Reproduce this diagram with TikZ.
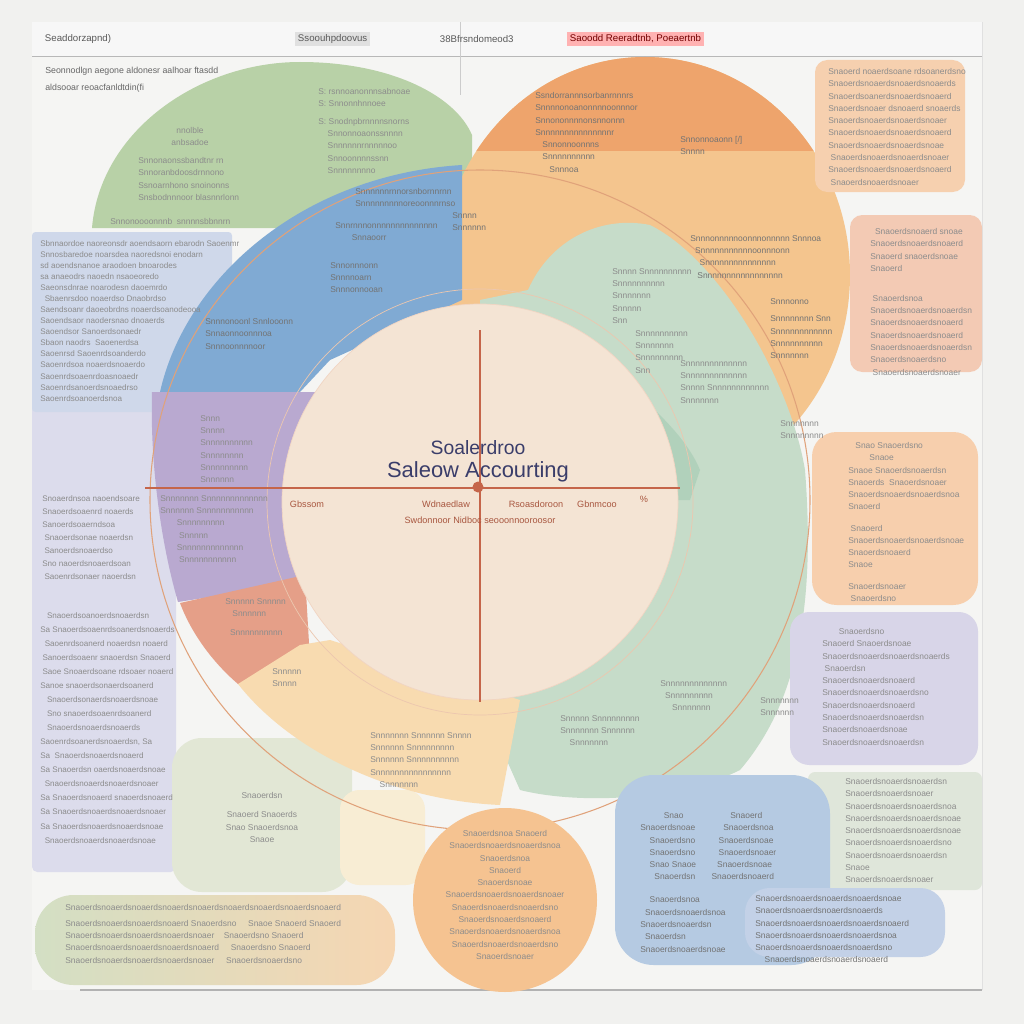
\documentclass[tikz,border=0pt]{standalone}
\usepackage{fontspec}
\setmainfont{Liberation Sans}
\usetikzlibrary{positioning}
\definecolor{pageBg}{HTML}{F1F1EF}
\definecolor{panelBg}{HTML}{F5F5F3}
\definecolor{greenT}{HTML}{B8D1A7}
\definecolor{orangeD}{HTML}{EEA46C}
\definecolor{orangeL}{HTML}{F4C58E}
\definecolor{blueQ}{HTML}{80AAD3}
\definecolor{purpleQ}{HTML}{B9A9D0}
\definecolor{salmonQ}{HTML}{E59F88}
\definecolor{yellowR}{HTML}{F8DBB0}
\definecolor{greenL}{HTML}{C6DCC9}
\definecolor{greenM}{HTML}{A9CDB6}
\definecolor{centerF}{HTML}{F4E4D4}
\definecolor{lineRed}{HTML}{C5654A}
\definecolor{ringC}{HTML}{E0A27A}
\definecolor{navy}{HTML}{3A3D6A}
\definecolor{leftP}{HTML}{CFD8EA}
\definecolor{leftQ}{HTML}{DCDCEC}
\definecolor{boxOa}{HTML}{F6D0AF}
\definecolor{boxOb}{HTML}{F3CAB4}
\definecolor{boxOc}{HTML}{F7CFAD}
\definecolor{boxP}{HTML}{D8D5E8}
\definecolor{boxG}{HTML}{DFE6DA}
\definecolor{boxB}{HTML}{B5CAE2}
\definecolor{boxBb}{HTML}{C3D1E7}
\definecolor{btmG}{HTML}{D3DFC4}
\definecolor{btmO}{HTML}{F6D6B2}
\definecolor{orangeC}{HTML}{F5C391}
\definecolor{greenP}{HTML}{E2E7D5}
\definecolor{yellowP}{HTML}{F8EDD4}

\begin{document}
\begin{tikzpicture}[x=0.02cm, y=-0.02cm,
  txt/.style={font=\fontsize{4.8}{7}\selectfont, text=black!45, inner sep=0pt, anchor=north west, align=left},
  txtc/.style={txt, anchor=north, align=center},
  hd/.style={font=\fontsize{5.5}{7}\selectfont, text=black!65, inner sep=1.5pt, anchor=west},
  lab/.style={font=\fontsize{5.2}{7}\selectfont, text=lineRed!85!black, inner sep=0pt}]
\useasboundingbox (0,0) rectangle (1024,1024);

% background and frame
\fill[pageBg] (0,0) rectangle (1024,1024);
\fill[panelBg] (32,22) rectangle (982,990);
\fill[black!3] (32,22) rectangle (982,56);
\draw[black!28, line width=0.5pt] (32,56) -- (982,56);
\draw[black!30, line width=0.6pt] (80,990) -- (982,990);
\draw[black!12] (982,22) -- (982,990);
\draw[black!20, line width=0.3pt] (460,22) -- (460,95);

% left panels
\fill[leftQ, rounded corners=3pt] (32,232) rectangle (176,872);
\fill[leftP, rounded corners=2pt] (32,232) rectangle (232,412);

% segments of the ring
\fill[greenT] (92,228) .. controls (100,130) and (200,62) .. (300,62) .. controls (390,62) and (455,95) .. (472,135) -- (472,228) -- cycle;
\fill[greenP, rounded corners=17pt] (172,738) rectangle (352,892);
\fill[yellowP, rounded corners=11pt] (340,790) rectangle (425,885);
\fill[orangeL] (645,275) ellipse [x radius=205, y radius=218];
\begin{scope}
  \clip (430,40) rectangle (850,150);
  \fill[orangeD] (645,275) ellipse [x radius=205, y radius=218];
\end{scope}
\fill[greenL] (528,290) .. controls (550,240) and (600,215) .. (650,225) .. controls (720,260) and (790,380) .. (805,470) .. controls (815,600) and (800,700) .. (740,770) .. controls (680,800) and (580,805) .. (520,790) -- (480,700) -- (480,300) -- cycle;
\fill[greenM, opacity=.7] (540,330) .. controls (600,360) and (680,420) .. (700,470) -- (690,500) -- (520,500) -- cycle;
\fill[blueQ] (160,392) .. controls (185,280) and (300,175) .. (462,165) -- (462,300) -- (330,360) -- (300,392) -- cycle;
\fill[purpleQ] (152,392) -- (320,392) -- (320,580) -- (178,602) .. controls (160,540) and (150,460) .. cycle;
\fill[salmonQ] (180,603) -- (305,575) -- (310,660) -- (270,680) -- (238,684) .. controls (210,660) and (190,630) .. cycle;
\fill[yellowR] (238,684) .. controls (290,750) and (390,800) .. (500,805) -- (520,700) -- (330,640) -- (300,645) -- cycle;

% rings and centre
\draw[ringC, line width=0.6pt] (480,500) circle [radius=330];
\draw[ringC!60, line width=0.4pt] (480,502) circle [radius=213];
\fill[centerF] (480,502) circle [radius=198];
\draw[ringC!45, line width=0.4pt] (480,502) circle [radius=198];

% side boxes
\fill[boxOa, rounded corners=7pt] (815,60) rectangle (965,192);
\fill[boxOb, rounded corners=7pt] (850,215) rectangle (982,372);
\fill[boxOc, rounded corners=14pt] (812,432) rectangle (978,605);
\fill[boxP, rounded corners=11pt] (790,612) rectangle (978,765);
\fill[boxG, rounded corners=4pt] (808,772) rectangle (982,890);
\fill[boxB, rounded corners=22pt] (615,775) rectangle (830,965);
\fill[boxBb, rounded corners=14pt] (745,888) rectangle (945,957);
\shade[left color=btmG, right color=btmO, rounded corners=22pt] (35,895) rectangle (395,985);
\fill[orangeC] (505,900) ellipse [x radius=92, y radius=92];

% cross
\coordinate (crossW) at (145,488);
\coordinate (crossE) at (680,488);
\coordinate (crossN) at (480,330);
\coordinate (crossS) at (480,702);
\draw[lineRed, line width=0.6pt] (crossW) -- (crossE);
\draw[lineRed, line width=0.6pt] (crossN) -- (crossS);
\node[circle, fill=lineRed, inner sep=0pt, minimum size=0.22cm] (hub) at (478,487) {};

% titles
\node[font=\fontsize{11}{13}\selectfont, text=navy, inner sep=0pt] (ttlA) at (478,448) {Soalerdroo};
\node[font=\fontsize{12.5}{14}\selectfont, text=navy, inner sep=0pt] (ttlB) at (478,472) {Saleow Accourting};
\node[lab] (lbA) at (307,504) {Gbssom};
\node[lab] (lbB) at (446,504) {Wdnaedlaw};
\node[lab] (lbC) at (536,504) {Rsoasdoroon};
\node[lab] (lbD) at (597,504) {Gbnmcoo};
\node[lab] (lbE) at (644,499) {\%};
\node[lab] (lbF) at (480,520) {Swdonnoor Nidboc seooonnooroosor};

% header
\node[hd] (hdA) at (42,39) {Seaddorzapnd)};
\node[hd, fill=black!12] (hdB) at (295,39) {Ssoouhpdoovus};
\node[hd] (hdC) at (437,39) {38Bfrsndomeod3};
\node[hd, fill=red!30, text=red!45!black] (hdD) at (567,39) {Saoodd Reeradtnb, Poeaertnb};
\node[txt, font=\fontsize{5}{9.5}\selectfont, text=black!60] (intro) at (45,67) {Seonnodlgn aegone aldonesr aalhoar ftasdd\\aldsooar reoacfanldtdin(fi};

% texts in the ring
\node[txtc] (grA) at (190,127) {nnolble\\anbsadoe};
\node[txt] (grB) at (138,157) {Snnonaonssbandtnr rn\\Snnoranbdoosdrnnono\\Ssnoarnhono snoinonns\\Snsbodnnnoor blasnnrlonn};
\node[txt] (grC) at (318,88) {S: rsnnoanonnnsabnoae\\S: Snnonnhnnoee\\[3pt]S: Snodnpbrnnnnsnorns\\~~~~Snnonnoaonssnnnn\\~~~~Snnnnnnrnnnnnoo\\~~~~Snnoonnnnssnn\\~~~~Snnnnnnnno};
\node[txt] (grD) at (110,218) {Snnonoooonnnb~ snnnnsbbnnrn};
\node[txt, text=black!55] (blA) at (355,188) {Snnnnnnrnnorsnbornnrnn\\Snnnnnnnnnoreoonnnrnso};
\node[txt, text=black!55] (blB) at (335,222) {Snnrnnnonnnnnnnnnnnnnn\\~~~~~~~Snnaoorr};
\node[txt, text=black!55] (blC) at (205,318) {Snnnonoonl Snnlooonn\\Snnaonnoonnnoa\\Snnnoonnnnoor};
\node[txt, text=black!55] (blD) at (330,262) {Snnonnnonn\\Snnnnoarn\\Snnnonnooan};
\node[txt, text=black!55] (orA) at (535,92) {Ssndorrannnsorbanrnnnrs\\Snnnnonoanonnnnoonnnor\\Snnononnnnonsnnonnn\\Snnnnnnnnnnnnnnnr\\~~~Snnonnoonnns\\~~~Snnnnnnnnnn\\~~~~~~Snnnoa};
\node[txt, text=black!55] (orB) at (680,136) {Snnonnoaonn [/]\\Snnnn};
\node[txt, text=black!55] (orE) at (452,212) {Snnnn\\Snnnnnn};
\node[txt, text=black!55] (orC) at (690,235) {Snnnonnnnnoonnnonnnnn Snnnoa\\~~Snnnnnnnnnnnoonnnonn\\~~~~Snnnnnnnnnnnnnnn\\~~~Snnnnnnnnnnnnnnnnn};
\node[txt, text=black!55] (orD) at (770,298) {Snnnonno\\[3pt]Snnnnnnnn Snn\\Snnnnnnnnnnnn\\Snnnnnnnnnn\\Snnnnnnn};
\node[txt] (glA) at (612,268) {Snnnn Snnnnnnnnnn\\Snnnnnnnnnn\\Snnnnnnn\\Snnnnn\\Snn};
\node[txt] (glB) at (635,330) {Snnnnnnnnnn\\Snnnnnnn\\Snnnnnnnnn\\Snn};
\node[txt] (glC) at (680,360) {Snnnnnnnnnnnnn\\Snnnnnnnnnnnnn\\Snnnn Snnnnnnnnnnnn\\Snnnnnnn};
\node[txt] (glD) at (780,420) {Snnnnnnn\\Snnnnnnnn};
\node[txt] (glE) at (660,680) {Snnnnnnnnnnnnn\\~~Snnnnnnnnn\\~~~~~Snnnnnnn};
\node[txt] (glF) at (560,715) {Snnnnn Snnnnnnnnn\\Snnnnnnn Snnnnnn\\~~~~Snnnnnnn};
\node[txt] (glG) at (760,697) {Snnnnnnn\\Snnnnnn};
\node[txt] (puA) at (200,415) {Snnn\\Snnnn\\Snnnnnnnnnn\\Snnnnnnnn\\Snnnnnnnnn\\Snnnnnn};
\node[txt] (puB) at (160,495) {Snnnnnnn Snnnnnnnnnnnnn\\Snnnnnn Snnnnnnnnnnn\\~~~~~~~Snnnnnnnnn\\~~~~~~~~Snnnnn\\~~~~~~~Snnnnnnnnnnnnn\\~~~~~~~~Snnnnnnnnnnn};
\node[txt] (saA) at (225,598) {Snnnnn Snnnnn\\~~~Snnnnnn\\[4pt]~~Snnnnnnnnnn};
\node[txt] (yeB) at (272,668) {Snnnnn\\Snnnn};
\node[txt] (yeA) at (370,732) {Snnnnnnn Snnnnnn Snnnn\\Snnnnnn Snnnnnnnnn\\Snnnnnn Snnnnnnnnnn\\Snnnnnnnnnnnnnnnn\\~~~~Snnnnnnn};

% left column
\node[txt, font=\fontsize{4.6}{6.3}\selectfont] (lfA) at (40,240) {Sbnnaordoe naoreonsdr aoendsaorn ebarodn Saoenmr\\Snnosbaredoe noarsdea naoredsnoi enodarn\\sd aoendsnanoe araodoen bnoarodes\\sa anaeodrs naoedn nsaoeoredo\\Saeonsdnrae noarodesn daoemrdo\\~~Sbaenrsdoo noaerdso Dnaobrdso\\Saendsoanr daoeobrdns noaerdsoanodeooa\\Saoendsaor naodersnao dnoaerds\\Saoendsor Sanoerdsonaedr\\Sbaon naodrs ~Saoenerdsa\\Saoenrsd Saoenrdsoanderdo\\Saoenrdsoa noaerdsnoaerdo\\Saoenrdsoaenrdoasnoaedr\\Saoenrdsanoerdsnoaedrso\\Saoenrdsoanoerdsnoa};
\node[txt, font=\fontsize{4.6}{7.4}\selectfont] (lfB) at (42,495) {Snoaerdnsoa naoendsoare\\Snaoerdsoaenrd noaerds\\Sanoerdsoaerndsoa\\~Snaoerdsonae noaerdsn\\~Sanoerdsnoaerdso\\Sno naoerdsnoaerdsoan\\~Saoenrdsonaer naoerdsn};
\node[txt, font=\fontsize{4.6}{8}\selectfont] (lfC) at (40,612) {~~~Snaoerdsoanoerdsnoaerdsn\\Sa Snaoerdsoaenrdsoanerdsnoaerds\\~~Saoenrdsoanerd noaerdsn noaerd\\~Sanoerdsoaenr snaoerdsn Snaoerd\\~Saoe Snoaerdsoane rdsoaer noaerd\\Sanoe snaoerdsonaerdsoanerd\\~~~Snaoerdsonaerdsnoaerdsnoae\\~~~Sno snaoerdsoaenrdsoanerd\\~~~Snaoerdsnoaerdsnoaerds\\Saoenrdsoanerdsnoaerdsn, Sa\\Sa ~Snaoerdsnoaerdsnoaerd\\Sa Snaoerdsn oaerdsnoaerdsnoae\\~~Snaoerdsnoaerdsnoaerdsnoaer\\Sa Snaoerdsnoaerd snaoerdsnoaerd\\Sa Snaoerdsnoaerdsnoaerdsnoaer\\Sa Snaoerdsnoaerdsnoaerdsnoae\\~~Snaoerdsnoaerdsnoaerdsnoae};

% right column
\node[txt] (rbA) at (828,68) {Snaoerd noaerdsoane rdsoanerdsno\\Snaoerdsnoaerdsnoaerdsnoaerds\\Snaoerdsoanerdsnoaerdsnoaerd\\Snaoerdsnoaer dsnoaerd snoaerds\\Snaoerdsnoaerdsnoaerdsnoaer\\Snaoerdsnoaerdsnoaerdsnoaerd\\Snaoerdsnoaerdsnoaerdsnoae\\~Snaoerdsnoaerdsnoaerdsnoaer\\Snaoerdsnoaerdsnoaerdsnoaerd\\~Snaoerdsnoaerdsnoaer};
\node[txt] (rbB) at (870,228) {~~Snaoerdsnoaerd snoae\\Snaoerdsnoaerdsnoaerd\\Snaoerd snaoerdsnoae\\Snaoerd\\[10pt]~Snaoerdsnoa\\Snaoerdsnoaerdsnoaerdsn\\Snaoerdsnoaerdsnoaerd\\Snaoerdsnoaerdsnoaerd\\Snaoerdsnoaerdsnoaerdsn\\Snaoerdsnoaerdsno\\~Snaoerdsnoaerdsnoaer};
\node[txt] (rbC) at (848,442) {~~~Snao Snaoerdsno\\~~~~~~~~~Snaoe\\Snaoe Snaoerdsnoaerdsn\\Snaoerds~ Snaoerdsnoaer\\Snaoerdsnoaerdsnoaerdsnoa\\Snaoerd\\[5pt]~Snaoerd\\Snaoerdsnoaerdsnoaerdsnoae\\Snaoerdsnoaerd\\Snaoe\\[5pt]Snaoerdsnoaer\\~Snaoerdsno};
\node[txt] (rbD) at (822,628) {~~~~~~~Snaoerdsno\\Snaoerd Snaoerdsnoae\\Snaoerdsnoaerdsnoaerdsnoaerds\\~Snaoerdsn\\Snaoerdsnoaerdsnoaerd\\Snaoerdsnoaerdsnoaerdsno\\Snaoerdsnoaerdsnoaerd\\Snaoerdsnoaerdsnoaerdsn\\Snaoerdsnoaerdsnoae\\Snaoerdsnoaerdsnoaerdsn};
\node[txt] (rbE) at (845,778) {Snaoerdsnoaerdsnoaerdsn\\Snaoerdsnoaerdsnoaer\\Snaoerdsnoaerdsnoaerdsnoa\\Snaoerdsnoaerdsnoaerdsnoae\\Snaoerdsnoaerdsnoaerdsnoae\\Snaoerdsnoaerdsnoaerdsno\\Snaoerdsnoaerdsnoaerdsn\\Snaoe\\Snaoerdsnoaerdsnoaer};
\node[txt, text=black!55] (rbF) at (640,812) {~~~~~~~~~~Snao ~~~~~~~~~~~~~~~~~~~Snaoerd\\Snaoerdsnoae ~~~~~~~~~~~Snaoerdsnoa\\~~~~Snaoerdsno ~~~~~~~~~Snaoerdsnoae\\~~~~Snaoerdsno ~~~~~~~~~Snaoerdsnoaer\\~~~~Snao Snaoe ~~~~~~~~Snaoerdsnoae\\~~~~~~Snaoerdsn ~~~~~~Snaoerdsnoaerd\\[6pt]~~~~Snaoerdsnoa\\~~Snaoerdsnoaerdsnoa\\Snaoerdsnoaerdsn\\~~Snaoerdsn\\Snaoerdsnoaerdsnoae};
\node[txt, text=black!55] (rbG) at (755,895) {Snaoerdsnoaerdsnoaerdsnoaerdsnoae\\Snaoerdsnoaerdsnoaerdsnoaerds\\Snaoerdsnoaerdsnoaerdsnoaerdsnoaerd\\Snaoerdsnoaerdsnoaerdsnoaerdsnoa\\Snaoerdsnoaerdsnoaerdsnoaerdsno\\~~~~Snaoerdsnoaerdsnoaerdsnoaerd};

% bottom
\node[txt] (btA) at (65,904) {Snaoerdsnoaerdsnoaerdsnoaerdsnoaerdsnoaerdsnoaerdsnoaerdsnoaerd\\[2pt]Snaoerdsnoaerdsnoaerdsnoaerd Snaoerdsno ~~~~Snaoe Snaoerd Snaoerd\\Snaoerdsnoaerdsnoaerdsnoaerdsnoaer ~~~Snaoerdsno Snaoerd\\Snaoerdsnoaerdsnoaerdsnoaerdsnoaerd ~~~~Snaoerdsno Snaoerd\\Snaoerdsnoaerdsnoaerdsnoaerdsnoaer ~~~~Snaoerdsnoaerdsno};
\node[txtc] (btB) at (505,830) {Snaoerdsnoa Snaoerd\\Snaoerdsnoaerdsnoaerdsnoa\\Snaoerdsnoa\\Snaoerd\\Snaoerdsnoae\\Snaoerdsnoaerdsnoaerdsnoaer\\Snaoerdsnoaerdsnoaerdsno\\Snaoerdsnoaerdsnoaerd\\Snaoerdsnoaerdsnoaerdsnoa\\Snaoerdsnoaerdsnoaerdsno\\Snaoerdsnoaer};
\node[txtc] (btC) at (262,792) {Snaoerdsn\\[4pt]Snaoerd Snaoerds\\Snao Snaoerdsnoa\\Snaoe};
\end{tikzpicture}
\end{document}
